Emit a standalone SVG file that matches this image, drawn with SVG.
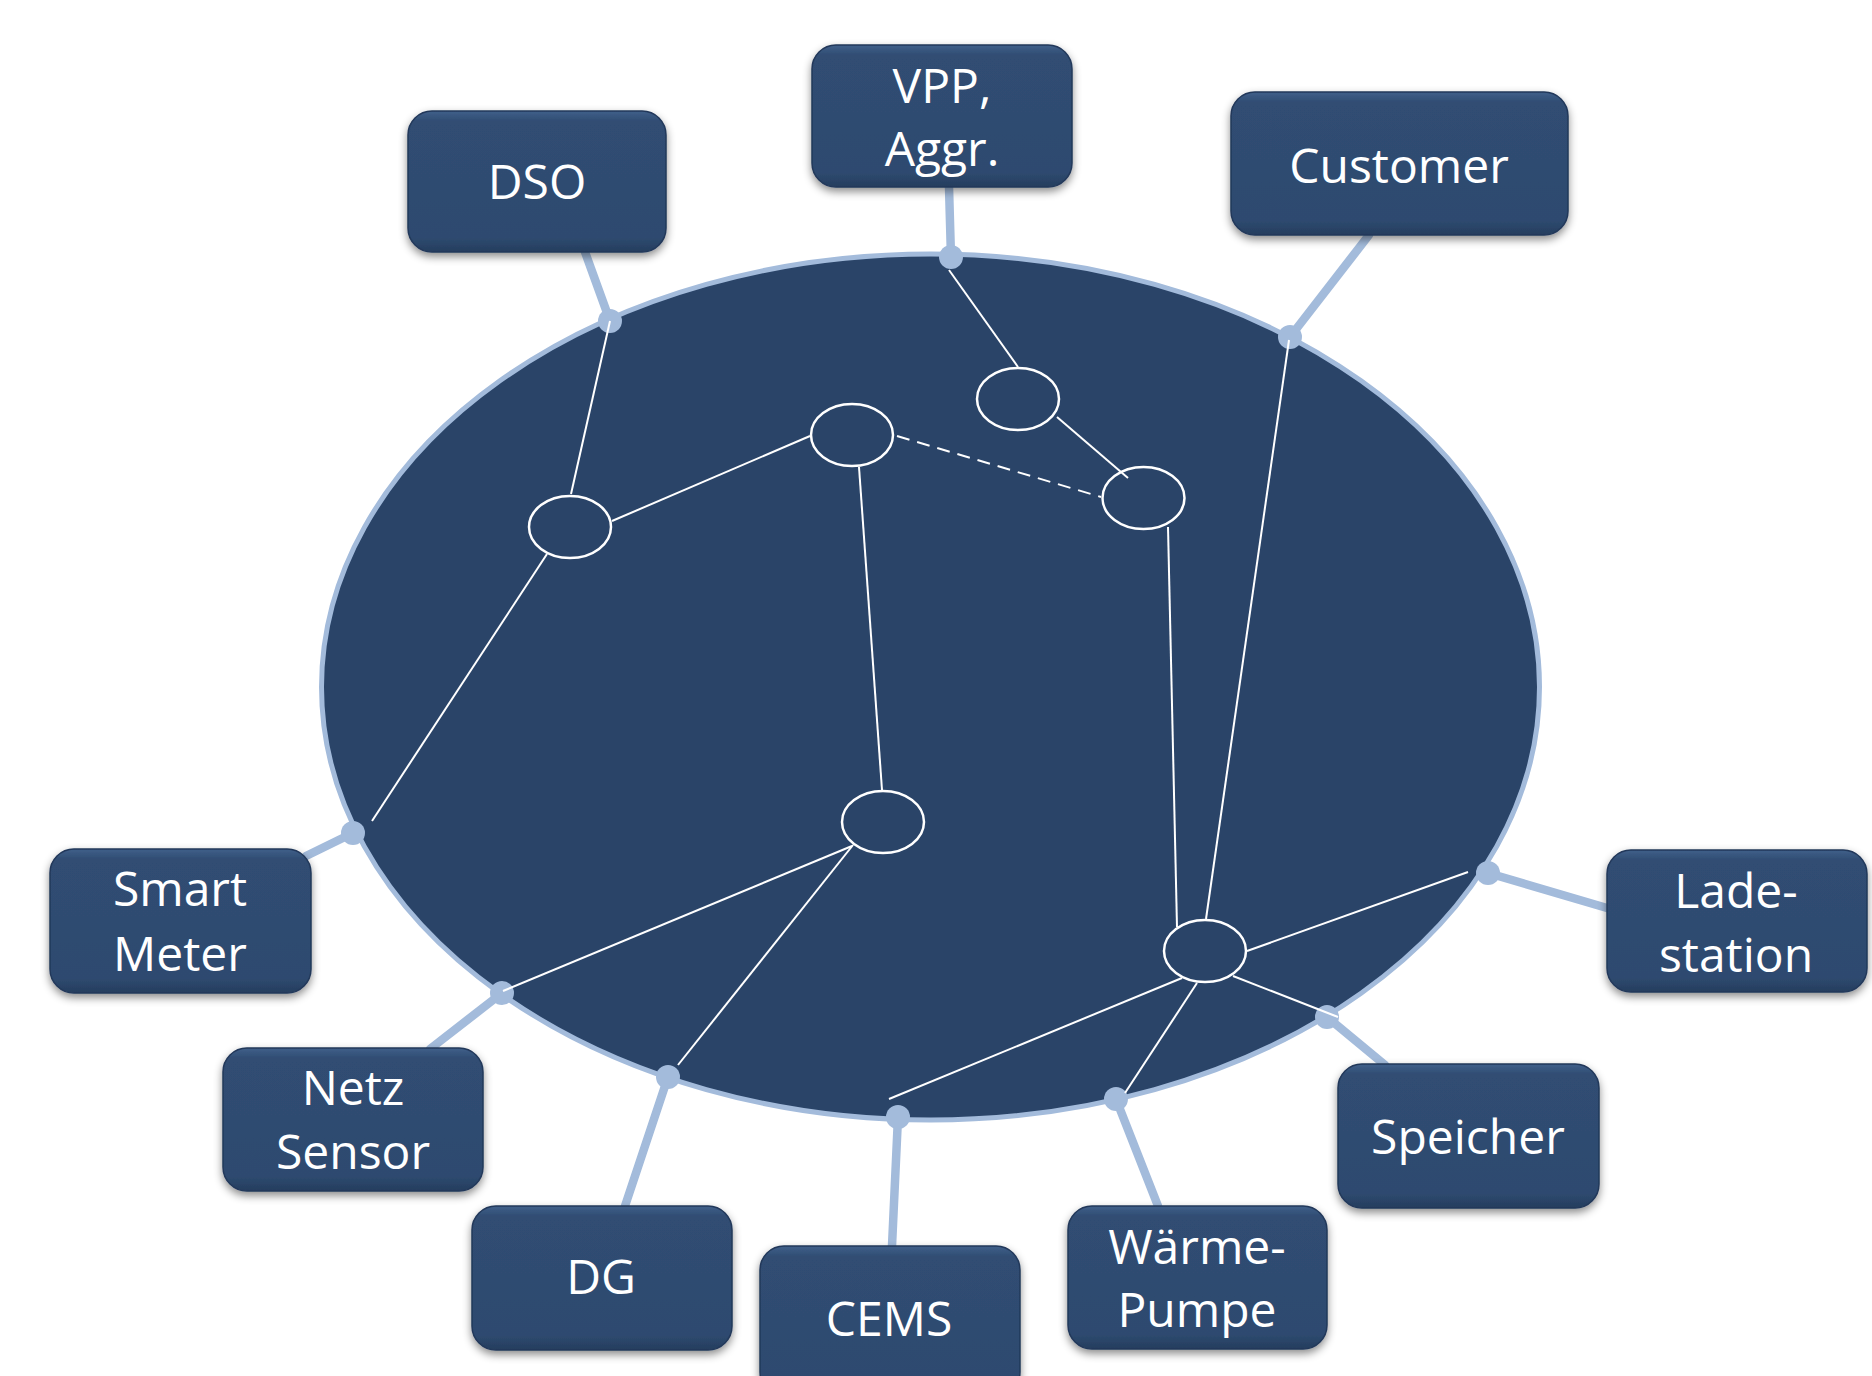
<svg xmlns="http://www.w3.org/2000/svg" width="1872" height="1376" viewBox="0 0 1872 1376">
  <defs>
    <linearGradient id="boxFill" x1="0" y1="0" x2="0" y2="1">
      <stop offset="0" stop-color="#40608a"/>
      <stop offset="0.07" stop-color="#304d73"/>
      <stop offset="0.9" stop-color="#2e4a6f"/>
      <stop offset="1" stop-color="#253d5e"/>
    </linearGradient>
    <filter id="shadow" x="-10%" y="-10%" width="120%" height="130%">
      <feDropShadow dx="0" dy="4" stdDeviation="4" flood-color="#000" flood-opacity="0.45"/>
    </filter>
    <style>
      .box { fill: url(#boxFill); stroke: #22385a; stroke-width: 1.5; filter: url(#shadow); }
      .label { font-family: "Open Sans", "Noto Sans", sans-serif; font-size: 48px; fill: #ffffff; text-anchor: middle; }
      .stub { stroke: #a3bbdb; stroke-width: 8.5; stroke-linecap: round; fill: none; }
      .dot { fill: #a3bbdb; }
      .link { stroke: #ffffff; stroke-width: 2; fill: none; }
      .dashed { stroke-dasharray: 13 8; }
      .hub { fill: none; stroke: #ffffff; stroke-width: 2.5; }
    </style>
  </defs>

  <rect width="1872" height="1376" fill="#ffffff"/>

  <!-- stubs from the boxes to the ring -->
  <g id="stubs">
    <line class="stub" x1="585" y1="252" x2="610" y2="321"/>
    <line class="stub" x1="949" y1="187" x2="951" y2="257"/>
    <line class="stub" x1="1369" y1="235" x2="1290" y2="337"/>
    <line class="stub" x1="306" y1="856" x2="353" y2="833"/>
    <line class="stub" x1="430" y1="1049" x2="502" y2="993"/>
    <line class="stub" x1="625" y1="1206" x2="668" y2="1077"/>
    <line class="stub" x1="892" y1="1246" x2="898" y2="1117"/>
    <line class="stub" x1="1158" y1="1206" x2="1116" y2="1099"/>
    <line class="stub" x1="1385" y1="1065" x2="1327" y2="1017"/>
    <line class="stub" x1="1607" y1="908" x2="1488" y2="873"/>
  </g>

  <!-- network area -->
  <g id="ring">
    <ellipse cx="930.5" cy="687" rx="609" ry="433" fill="#2a4468" stroke="#a3bbdb" stroke-width="5"/>
  </g>

  <g id="ports">
    <circle class="dot" cx="610" cy="321" r="12"/>
    <circle class="dot" cx="951" cy="257" r="12"/>
    <circle class="dot" cx="1290" cy="337" r="12"/>
    <circle class="dot" cx="353" cy="833" r="12"/>
    <circle class="dot" cx="502" cy="993" r="12"/>
    <circle class="dot" cx="668" cy="1077" r="12"/>
    <circle class="dot" cx="898" cy="1117" r="12"/>
    <circle class="dot" cx="1116" cy="1099" r="12"/>
    <circle class="dot" cx="1327" cy="1017" r="12"/>
    <circle class="dot" cx="1488" cy="873" r="12"/>
  </g>

  <!-- inner links -->
  <g id="connectors">
    <line class="link" x1="610" y1="321" x2="571" y2="494"/>
    <line class="link" x1="612" y1="521" x2="810" y2="436"/>
    <line class="link" x1="547" y1="554" x2="372" y2="821"/>
    <line class="link" x1="859" y1="467" x2="882" y2="790"/>
    <line class="link dashed" x1="897" y1="436" x2="1101" y2="497"/>
    <line class="link" x1="949" y1="270" x2="1018" y2="367"/>
    <line class="link" x1="1057" y1="417" x2="1128" y2="478"/>
    <line class="link" x1="1168" y1="527" x2="1177" y2="927"/>
    <line class="link" x1="1289" y1="340" x2="1206" y2="919"/>
    <line class="link" x1="1247" y1="951" x2="1468" y2="872"/>
    <line class="link" x1="1233" y1="976" x2="1338" y2="1017"/>
    <line class="link" x1="1197" y1="983" x2="1125" y2="1093"/>
    <line class="link" x1="1182" y1="978" x2="889" y2="1099"/>
    <line class="link" x1="852" y1="846" x2="503" y2="991"/>
    <line class="link" x1="853" y1="845" x2="678" y2="1065"/>
  </g>

  <!-- inner hubs -->
  <g id="hubs">
    <ellipse id="hub-a" class="hub" cx="570" cy="527" rx="41" ry="31"/>
    <ellipse id="hub-b" class="hub" cx="852" cy="435" rx="41" ry="31"/>
    <ellipse id="hub-c" class="hub" cx="1018" cy="399" rx="41" ry="31"/>
    <ellipse id="hub-d" class="hub" cx="1143.5" cy="498" rx="41" ry="31"/>
    <ellipse id="hub-e" class="hub" cx="883" cy="822" rx="41" ry="31"/>
    <ellipse id="hub-f" class="hub" cx="1205" cy="951" rx="41" ry="31"/>
  </g>

  <g id="node-dso">
    <rect class="box" x="408" y="111" width="258" height="141" rx="24"/>
    <text class="label" x="537" y="199">DSO</text>
  </g>
  <g id="node-vpp">
    <rect class="box" x="812" y="45" width="260" height="142" rx="24"/>
    <text class="label" x="942" y="103">VPP,</text>
    <text class="label" x="942" y="166">Aggr.</text>
  </g>
  <g id="node-customer">
    <rect class="box" x="1231" y="92" width="337" height="143" rx="24"/>
    <text class="label" x="1399" y="183">Customer</text>
  </g>
  <g id="node-smart-meter">
    <rect class="box" x="50" y="849" width="261" height="144" rx="24"/>
    <text class="label" x="180" y="906">Smart</text>
    <text class="label" x="180" y="971">Meter</text>
  </g>
  <g id="node-netz-sensor">
    <rect class="box" x="223" y="1048" width="260" height="143" rx="24"/>
    <text class="label" x="353" y="1105">Netz</text>
    <text class="label" x="353" y="1169">Sensor</text>
  </g>
  <g id="node-dg">
    <rect class="box" x="472" y="1206" width="260" height="144" rx="24"/>
    <text class="label" x="601" y="1294">DG</text>
  </g>
  <g id="node-cems">
    <rect class="box" x="760" y="1246" width="260" height="150" rx="24"/>
    <text class="label" x="889" y="1336">CEMS</text>
  </g>
  <g id="node-waermepumpe">
    <rect class="box" x="1068" y="1206" width="259" height="143" rx="24"/>
    <text class="label" x="1197" y="1264">Wärme-</text>
    <text class="label" x="1197" y="1327">Pumpe</text>
  </g>
  <g id="node-speicher">
    <rect class="box" x="1338" y="1064" width="261" height="144" rx="24"/>
    <text class="label" x="1468" y="1154">Speicher</text>
  </g>
  <g id="node-ladestation">
    <rect class="box" x="1607" y="850" width="260" height="142" rx="24"/>
    <text class="label" x="1736" y="908">Lade-</text>
    <text class="label" x="1736" y="972">station</text>
  </g>
</svg>
